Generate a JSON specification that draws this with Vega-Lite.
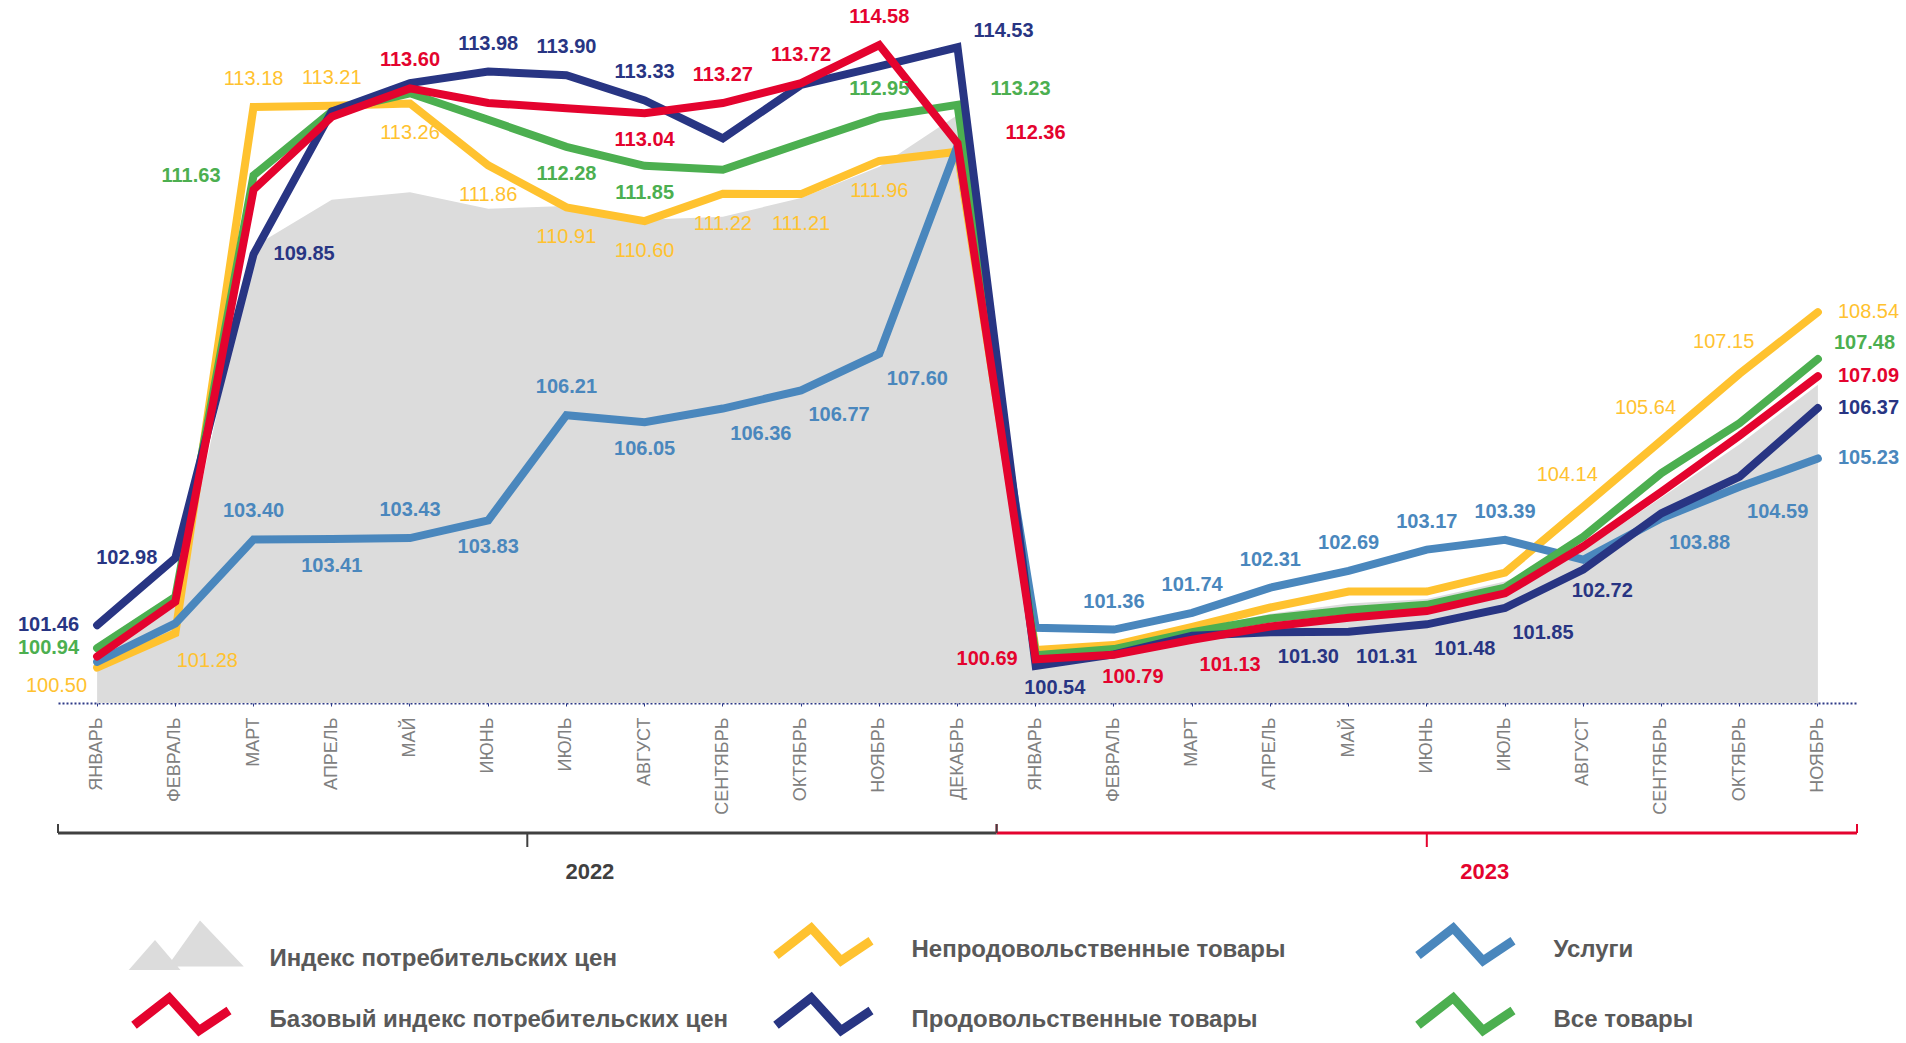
{
  "$schema": "https://vega.github.io/schema/vega-lite/v6.json",
  "background": "white",
  "padding": {"left": 17, "top": 0, "right": 0, "bottom": 0},
  "spacing": 107,
  "bounds": "flush",
  "resolve": {"scale": {"x": "independent", "y": "independent"}},
  "config": {
    "view": {"stroke": null},
    "text": {"font": "Liberation Sans", "fontSize": 20, "baseline": "middle"}
  },
  "datasets": {
    "main": [
      {"m":"ЯНВАРЬ 2022","s":"Индекс потребительских цен","v":100.85},
      {"m":"ФЕВРАЛЬ 2022","s":"Индекс потребительских цен","v":101.95},
      {"m":"МАРТ 2022","s":"Индекс потребительских цен","v":110.02},
      {"m":"АПРЕЛЬ 2022","s":"Индекс потребительских цен","v":111.08},
      {"m":"МАЙ 2022","s":"Индекс потребительских цен","v":111.25},
      {"m":"ИЮНЬ 2022","s":"Индекс потребительских цен","v":110.88},
      {"m":"ИЮЛЬ 2022","s":"Индекс потребительских цен","v":110.94},
      {"m":"АВГУСТ 2022","s":"Индекс потребительских цен","v":110.63},
      {"m":"СЕНТЯБРЬ 2022","s":"Индекс потребительских цен","v":110.70},
      {"m":"ОКТЯБРЬ 2022","s":"Индекс потребительских цен","v":111.12},
      {"m":"НОЯБРЬ 2022","s":"Индекс потребительских цен","v":111.83},
      {"m":"ДЕКАБРЬ 2022","s":"Индекс потребительских цен","v":113.00},
      {"m":"ЯНВАРЬ 2023","s":"Индекс потребительских цен","v":100.70},
      {"m":"ФЕВРАЛЬ 2023","s":"Индекс потребительских цен","v":100.90},
      {"m":"МАРТ 2023","s":"Индекс потребительских цен","v":101.35},
      {"m":"АПРЕЛЬ 2023","s":"Индекс потребительских цен","v":101.72},
      {"m":"МАЙ 2023","s":"Индекс потребительских цен","v":101.95},
      {"m":"ИЮНЬ 2023","s":"Индекс потребительских цен","v":102.05},
      {"m":"ИЮЛЬ 2023","s":"Индекс потребительских цен","v":102.45},
      {"m":"АВГУСТ 2023","s":"Индекс потребительских цен","v":103.15},
      {"m":"СЕНТЯБРЬ 2023","s":"Индекс потребительских цен","v":104.35},
      {"m":"ОКТЯБРЬ 2023","s":"Индекс потребительских цен","v":105.55},
      {"m":"НОЯБРЬ 2023","s":"Индекс потребительских цен","v":106.90},

      {"m":"ЯНВАРЬ 2022","s":"Непродовольственные товары","v":100.50,"p":"bl"},
      {"m":"ФЕВРАЛЬ 2022","s":"Непродовольственные товары","v":101.28,"p":"br2"},
      {"m":"МАРТ 2022","s":"Непродовольственные товары","v":113.18,"p":"t"},
      {"m":"АПРЕЛЬ 2022","s":"Непродовольственные товары","v":113.21,"p":"t"},
      {"m":"МАЙ 2022","s":"Непродовольственные товары","v":113.26,"p":"b"},
      {"m":"ИЮНЬ 2022","s":"Непродовольственные товары","v":111.86,"p":"b"},
      {"m":"ИЮЛЬ 2022","s":"Непродовольственные товары","v":110.91,"p":"b"},
      {"m":"АВГУСТ 2022","s":"Непродовольственные товары","v":110.60,"p":"b"},
      {"m":"СЕНТЯБРЬ 2022","s":"Непродовольственные товары","v":111.22,"p":"b"},
      {"m":"ОКТЯБРЬ 2022","s":"Непродовольственные товары","v":111.21,"p":"b"},
      {"m":"НОЯБРЬ 2022","s":"Непродовольственные товары","v":111.96,"p":"b"},
      {"m":"ДЕКАБРЬ 2022","s":"Непродовольственные товары","v":112.17},
      {"m":"ЯНВАРЬ 2023","s":"Непродовольственные товары","v":100.90},
      {"m":"ФЕВРАЛЬ 2023","s":"Непродовольственные товары","v":101.01},
      {"m":"МАРТ 2023","s":"Непродовольственные товары","v":101.42},
      {"m":"АПРЕЛЬ 2023","s":"Непродовольственные товары","v":101.86},
      {"m":"МАЙ 2023","s":"Непродовольственные товары","v":102.22},
      {"m":"ИЮНЬ 2023","s":"Непродовольственные товары","v":102.22},
      {"m":"ИЮЛЬ 2023","s":"Непродовольственные товары","v":102.65},
      {"m":"АВГУСТ 2023","s":"Непродовольственные товары","v":104.14,"p":"tl"},
      {"m":"СЕНТЯБРЬ 2023","s":"Непродовольственные товары","v":105.64,"p":"tl"},
      {"m":"ОКТЯБРЬ 2023","s":"Непродовольственные товары","v":107.15,"p":"tl"},
      {"m":"НОЯБРЬ 2023","s":"Непродовольственные товары","v":108.54,"p":"r"},

      {"m":"ЯНВАРЬ 2022","s":"Услуги","v":100.63},
      {"m":"ФЕВРАЛЬ 2022","s":"Услуги","v":101.50},
      {"m":"МАРТ 2022","s":"Услуги","v":103.40,"p":"t"},
      {"m":"АПРЕЛЬ 2022","s":"Услуги","v":103.41,"p":"b"},
      {"m":"МАЙ 2022","s":"Услуги","v":103.43,"p":"t"},
      {"m":"ИЮНЬ 2022","s":"Услуги","v":103.83,"p":"b"},
      {"m":"ИЮЛЬ 2022","s":"Услуги","v":106.21,"p":"t"},
      {"m":"АВГУСТ 2022","s":"Услуги","v":106.05,"p":"b"},
      {"m":"СЕНТЯБРЬ 2022","s":"Услуги","v":106.36,"p":"br2"},
      {"m":"ОКТЯБРЬ 2022","s":"Услуги","v":106.77,"p":"br2"},
      {"m":"НОЯБРЬ 2022","s":"Услуги","v":107.60,"p":"br2"},
      {"m":"ДЕКАБРЬ 2022","s":"Услуги","v":112.30},
      {"m":"ЯНВАРЬ 2023","s":"Услуги","v":101.40},
      {"m":"ФЕВРАЛЬ 2023","s":"Услуги","v":101.36,"p":"t"},
      {"m":"МАРТ 2023","s":"Услуги","v":101.74,"p":"t"},
      {"m":"АПРЕЛЬ 2023","s":"Услуги","v":102.31,"p":"t"},
      {"m":"МАЙ 2023","s":"Услуги","v":102.69,"p":"t"},
      {"m":"ИЮНЬ 2023","s":"Услуги","v":103.17,"p":"t"},
      {"m":"ИЮЛЬ 2023","s":"Услуги","v":103.39,"p":"t"},
      {"m":"АВГУСТ 2023","s":"Услуги","v":102.94},
      {"m":"СЕНТЯБРЬ 2023","s":"Услуги","v":103.88,"p":"br2"},
      {"m":"ОКТЯБРЬ 2023","s":"Услуги","v":104.59,"p":"br2"},
      {"m":"НОЯБРЬ 2023","s":"Услуги","v":105.23,"p":"r"},

      {"m":"ЯНВАРЬ 2022","s":"Все товары","v":100.94,"p":"l"},
      {"m":"ФЕВРАЛЬ 2022","s":"Все товары","v":102.10},
      {"m":"МАРТ 2022","s":"Все товары","v":111.63,"p":"ll"},
      {"m":"АПРЕЛЬ 2022","s":"Все товары","v":113.08},
      {"m":"МАЙ 2022","s":"Все товары","v":113.49},
      {"m":"ИЮНЬ 2022","s":"Все товары","v":112.89},
      {"m":"ИЮЛЬ 2022","s":"Все товары","v":112.28,"p":"b"},
      {"m":"АВГУСТ 2022","s":"Все товары","v":111.85,"p":"b"},
      {"m":"СЕНТЯБРЬ 2022","s":"Все товары","v":111.76},
      {"m":"ОКТЯБРЬ 2022","s":"Все товары","v":112.36},
      {"m":"НОЯБРЬ 2022","s":"Все товары","v":112.95,"p":"t"},
      {"m":"ДЕКАБРЬ 2022","s":"Все товары","v":113.23,"p":"tr2"},
      {"m":"ЯНВАРЬ 2023","s":"Все товары","v":100.78},
      {"m":"ФЕВРАЛЬ 2023","s":"Все товары","v":100.92},
      {"m":"МАРТ 2023","s":"Все товары","v":101.30},
      {"m":"АПРЕЛЬ 2023","s":"Все товары","v":101.61},
      {"m":"МАЙ 2023","s":"Все товары","v":101.80},
      {"m":"ИЮНЬ 2023","s":"Все товары","v":101.92},
      {"m":"ИЮЛЬ 2023","s":"Все товары","v":102.31},
      {"m":"АВГУСТ 2023","s":"Все товары","v":103.46},
      {"m":"СЕНТЯБРЬ 2023","s":"Все товары","v":104.90},
      {"m":"ОКТЯБРЬ 2023","s":"Все товары","v":106.03},
      {"m":"НОЯБРЬ 2023","s":"Все товары","v":107.48,"p":"tr"},

      {"m":"ЯНВАРЬ 2022","s":"Продовольственные товары","v":101.46,"p":"l"},
      {"m":"ФЕВРАЛЬ 2022","s":"Продовольственные товары","v":102.98,"p":"l"},
      {"m":"МАРТ 2022","s":"Продовольственные товары","v":109.85,"p":"r"},
      {"m":"АПРЕЛЬ 2022","s":"Продовольственные товары","v":113.08},
      {"m":"МАЙ 2022","s":"Продовольственные товары","v":113.72},
      {"m":"ИЮНЬ 2022","s":"Продовольственные товары","v":113.98,"p":"t"},
      {"m":"ИЮЛЬ 2022","s":"Продовольственные товары","v":113.90,"p":"t"},
      {"m":"АВГУСТ 2022","s":"Продовольственные товары","v":113.33,"p":"t"},
      {"m":"СЕНТЯБРЬ 2022","s":"Продовольственные товары","v":112.47},
      {"m":"ОКТЯБРЬ 2022","s":"Продовольственные товары","v":113.68},
      {"m":"НОЯБРЬ 2022","s":"Продовольственные товары","v":114.10},
      {"m":"ДЕКАБРЬ 2022","s":"Продовольственные товары","v":114.53,"p":"tr"},
      {"m":"ЯНВАРЬ 2023","s":"Продовольственные товары","v":100.54,"p":"br"},
      {"m":"ФЕВРАЛЬ 2023","s":"Продовольственные товары","v":100.80},
      {"m":"МАРТ 2023","s":"Продовольственные товары","v":101.22},
      {"m":"АПРЕЛЬ 2023","s":"Продовольственные товары","v":101.30,"p":"br2"},
      {"m":"МАЙ 2023","s":"Продовольственные товары","v":101.31,"p":"br2"},
      {"m":"ИЮНЬ 2023","s":"Продовольственные товары","v":101.48,"p":"br2"},
      {"m":"ИЮЛЬ 2023","s":"Продовольственные товары","v":101.85,"p":"br2"},
      {"m":"АВГУСТ 2023","s":"Продовольственные товары","v":102.72,"p":"br"},
      {"m":"СЕНТЯБРЬ 2023","s":"Продовольственные товары","v":103.99},
      {"m":"ОКТЯБРЬ 2023","s":"Продовольственные товары","v":104.82},
      {"m":"НОЯБРЬ 2023","s":"Продовольственные товары","v":106.37,"p":"r"},

      {"m":"ЯНВАРЬ 2022","s":"Базовый индекс потребительских цен","v":100.75},
      {"m":"ФЕВРАЛЬ 2022","s":"Базовый индекс потребительских цен","v":101.99},
      {"m":"МАРТ 2022","s":"Базовый индекс потребительских цен","v":111.31},
      {"m":"АПРЕЛЬ 2022","s":"Базовый индекс потребительских цен","v":112.96},
      {"m":"МАЙ 2022","s":"Базовый индекс потребительских цен","v":113.60,"p":"t"},
      {"m":"ИЮНЬ 2022","s":"Базовый индекс потребительских цен","v":113.27},
      {"m":"ИЮЛЬ 2022","s":"Базовый индекс потребительских цен","v":113.15},
      {"m":"АВГУСТ 2022","s":"Базовый индекс потребительских цен","v":113.04,"p":"b"},
      {"m":"СЕНТЯБРЬ 2022","s":"Базовый индекс потребительских цен","v":113.27,"p":"t"},
      {"m":"ОКТЯБРЬ 2022","s":"Базовый индекс потребительских цен","v":113.72,"p":"t"},
      {"m":"НОЯБРЬ 2022","s":"Базовый индекс потребительских цен","v":114.58,"p":"t"},
      {"m":"ДЕКАБРЬ 2022","s":"Базовый индекс потребительских цен","v":112.36,"p":"rr"},
      {"m":"ЯНВАРЬ 2023","s":"Базовый индекс потребительских цен","v":100.69,"p":"l"},
      {"m":"ФЕВРАЛЬ 2023","s":"Базовый индекс потребительских цен","v":100.79,"p":"br"},
      {"m":"МАРТ 2023","s":"Базовый индекс потребительских цен","v":101.13,"p":"br2"},
      {"m":"АПРЕЛЬ 2023","s":"Базовый индекс потребительских цен","v":101.43},
      {"m":"МАЙ 2023","s":"Базовый индекс потребительских цен","v":101.63},
      {"m":"ИЮНЬ 2023","s":"Базовый индекс потребительских цен","v":101.78},
      {"m":"ИЮЛЬ 2023","s":"Базовый индекс потребительских цен","v":102.18},
      {"m":"АВГУСТ 2023","s":"Базовый индекс потребительских цен","v":103.24},
      {"m":"СЕНТЯБРЬ 2023","s":"Базовый индекс потребительских цен","v":104.48},
      {"m":"ОКТЯБРЬ 2023","s":"Базовый индекс потребительских цен","v":105.75},
      {"m":"НОЯБРЬ 2023","s":"Базовый индекс потребительских цен","v":107.09,"p":"r"}
    ],
    "brackets": [
      {"year":"2022","start":"ЯНВАРЬ 2022","end":"ДЕКАБРЬ 2022","mid":"ИЮЛЬ 2022"},
      {"year":"2023","start":"ЯНВАРЬ 2023","end":"НОЯБРЬ 2023","mid":"ИЮНЬ 2023"}
    ]
  },
  "vconcat": [
    {
      "width": 1799,
      "height": 703,
      "data": {"name": "main"},
      "encoding": {
        "x": {
          "field": "m", "type": "nominal", "bandPosition": 0.5,
          "scale": {"type": "band", "paddingInner": 0, "paddingOuter": 0,
            "domain": ["ЯНВАРЬ 2022","ФЕВРАЛЬ 2022","МАРТ 2022","АПРЕЛЬ 2022","МАЙ 2022","ИЮНЬ 2022","ИЮЛЬ 2022","АВГУСТ 2022","СЕНТЯБРЬ 2022","ОКТЯБРЬ 2022","НОЯБРЬ 2022","ДЕКАБРЬ 2022","ЯНВАРЬ 2023","ФЕВРАЛЬ 2023","МАРТ 2023","АПРЕЛЬ 2023","МАЙ 2023","ИЮНЬ 2023","ИЮЛЬ 2023","АВГУСТ 2023","СЕНТЯБРЬ 2023","ОКТЯБРЬ 2023","НОЯБРЬ 2023"]},
          "axis": {
            "title": null, "labelAngle": -90, "labelAlign": "right", "labelBaseline": "middle",
            "labelFont": "Liberation Sans", "labelFontSize": 18, "labelColor": "#808080",
            "labelPadding": 11, "labelOverlap": false,
            "labelExpr": "split(datum.label, ' ')[0]",
            "domainColor": "#2e3a87", "domainDash": [2, 2], "domainWidth": 2,
            "tickColor": "#2e3a87", "tickSize": 3, "grid": false
          }
        },
        "y": {
          "field": "v", "type": "quantitative",
          "scale": {"domain": [99.7, 115.6], "nice": false, "zero": false},
          "axis": null
        }
      },
      "layer": [
        {
          "transform": [{"filter": "datum.s == 'Индекс потребительских цен'"}],
          "mark": {"type": "area", "color": "#dcdcdc"},
          "encoding": {"y2": {"datum": 99.7}}
        },
        {
          "transform": [{"filter": "datum.s == 'Непродовольственные товары'"}],
          "mark": {"type": "line", "strokeWidth": 8, "strokeCap": "round", "strokeJoin": "miter", "strokeMiterLimit": 3},
          "encoding": {
            "color": {
              "field": "s", "type": "nominal",
              "scale": {
                "domain": ["Индекс потребительских цен","Непродовольственные товары","Услуги","Базовый индекс потребительских цен","Продовольственные товары","Все товары"],
                "range": ["#dcdcdc","#ffc22f","#4a87bd","#e4032e","#283583","#4caf50"]
              },
              "legend": {
                "title": null, "orient": "none", "legendX": 88, "legendY": 938,
                "direction": "horizontal", "columns": 3, "gridAlign": "all",
                "columnPadding": 29, "rowPadding": 0,
                "symbolSize": 2500, "symbolStrokeWidth": 9, "symbolOffset": 23.5,
                "labelOffset": 76, "labelFont": "Liberation Sans", "labelFontSize": 24,
                "labelFontWeight": "bold", "labelColor": "#595959", "labelLimit": 0,
                "encode": {
                  "symbols": {
                    "update": {
                      "shape": {"signal": "datum.value == 'Индекс потребительских цен' ? 'M-2.11,0.46L-1.06,-0.74L-0.04,0.46Z M-0.57,0.32L0.74,-1.52L2.49,0.32Z' : 'M-1.9,0.21L-0.49,-0.89L0.7,0.42L1.9,-0.38L0.7,0.42L-0.49,-0.89Z'"},
                      "fill": {"signal": "datum.value == 'Индекс потребительских цен' ? '#dcdcdc' : 'transparent'"},
                      "stroke": {"signal": "datum.value == 'Непродовольственные товары' ? '#ffc22f' : datum.value == 'Услуги' ? '#4a87bd' : datum.value == 'Базовый индекс потребительских цен' ? '#e4032e' : datum.value == 'Продовольственные товары' ? '#283583' : datum.value == 'Все товары' ? '#4caf50' : 'transparent'"},
                      "strokeWidth": {"signal": "datum.value == 'Индекс потребительских цен' ? 0 : 9"},
                      "strokeJoin": {"signal": "datum.value == 'Индекс потребительских цен' ? 'round' : 'miter'"},
                      "opacity": {"value": 1}
                    }
                  }
                }
              }
            }
          }
        },
        {
          "transform": [{"filter": "datum.s == 'Услуги'"}],
          "mark": {"type": "line", "strokeWidth": 8, "strokeCap": "round", "strokeJoin": "miter", "strokeMiterLimit": 3},
          "encoding": {"color": {"field": "s", "type": "nominal"}}
        },
        {
          "transform": [{"filter": "datum.s == 'Все товары'"}],
          "mark": {"type": "line", "strokeWidth": 8, "strokeCap": "round", "strokeJoin": "miter", "strokeMiterLimit": 3},
          "encoding": {"color": {"field": "s", "type": "nominal"}}
        },
        {
          "transform": [{"filter": "datum.s == 'Продовольственные товары'"}],
          "mark": {"type": "line", "strokeWidth": 8, "strokeCap": "round", "strokeJoin": "miter", "strokeMiterLimit": 3},
          "encoding": {"color": {"field": "s", "type": "nominal"}}
        },
        {
          "transform": [{"filter": "datum.s == 'Базовый индекс потребительских цен'"}],
          "mark": {"type": "line", "strokeWidth": 8, "strokeCap": "round", "strokeJoin": "miter", "strokeMiterLimit": 3},
          "encoding": {"color": {"field": "s", "type": "nominal"}}
        },
        {
          "transform": [{"filter": "datum.p == 't' && datum.s != 'Непродовольственные товары'"}],
          "mark": {"type": "text", "fontWeight": "bold", "dy": -28},
          "encoding": {"text": {"field": "v", "type": "quantitative", "format": ".2f"}, "color": {"field": "s", "type": "nominal", "legend": null}}
        },
        {
          "transform": [{"filter": "datum.p == 'b' && datum.s != 'Непродовольственные товары'"}],
          "mark": {"type": "text", "fontWeight": "bold", "dy": 27},
          "encoding": {"text": {"field": "v", "type": "quantitative", "format": ".2f"}, "color": {"field": "s", "type": "nominal", "legend": null}}
        },
        {
          "transform": [{"filter": "datum.p == 'l' && datum.s != 'Непродовольственные товары'"}],
          "mark": {"type": "text", "fontWeight": "bold", "align": "right", "dx": -18},
          "encoding": {"text": {"field": "v", "type": "quantitative", "format": ".2f"}, "color": {"field": "s", "type": "nominal", "legend": null}}
        },
        {
          "transform": [{"filter": "datum.p == 'll' && datum.s != 'Непродовольственные товары'"}],
          "mark": {"type": "text", "fontWeight": "bold", "align": "right", "dx": -33},
          "encoding": {"text": {"field": "v", "type": "quantitative", "format": ".2f"}, "color": {"field": "s", "type": "nominal", "legend": null}}
        },
        {
          "transform": [{"filter": "datum.p == 'r' && datum.s != 'Непродовольственные товары'"}],
          "mark": {"type": "text", "fontWeight": "bold", "align": "left", "dx": 20},
          "encoding": {"text": {"field": "v", "type": "quantitative", "format": ".2f"}, "color": {"field": "s", "type": "nominal", "legend": null}}
        },
        {
          "transform": [{"filter": "datum.p == 'tr' && datum.s != 'Непродовольственные товары'"}],
          "mark": {"type": "text", "fontWeight": "bold", "align": "left", "dx": 16, "dy": -16},
          "encoding": {"text": {"field": "v", "type": "quantitative", "format": ".2f"}, "color": {"field": "s", "type": "nominal", "legend": null}}
        },
        {
          "transform": [{"filter": "datum.p == 'tr2' && datum.s != 'Непродовольственные товары'"}],
          "mark": {"type": "text", "fontWeight": "bold", "align": "left", "dx": 33, "dy": -16},
          "encoding": {"text": {"field": "v", "type": "quantitative", "format": ".2f"}, "color": {"field": "s", "type": "nominal", "legend": null}}
        },
        {
          "transform": [{"filter": "datum.p == 'rr' && datum.s != 'Непродовольственные товары'"}],
          "mark": {"type": "text", "fontWeight": "bold", "align": "left", "dx": 48, "dy": -10},
          "encoding": {"text": {"field": "v", "type": "quantitative", "format": ".2f"}, "color": {"field": "s", "type": "nominal", "legend": null}}
        },
        {
          "transform": [{"filter": "datum.p == 'br' && datum.s != 'Непродовольственные товары'"}],
          "mark": {"type": "text", "fontWeight": "bold", "dx": 19, "dy": 22},
          "encoding": {"text": {"field": "v", "type": "quantitative", "format": ".2f"}, "color": {"field": "s", "type": "nominal", "legend": null}}
        },
        {
          "transform": [{"filter": "datum.p == 'br2' && datum.s != 'Непродовольственные товары'"}],
          "mark": {"type": "text", "fontWeight": "bold", "dx": 38, "dy": 25},
          "encoding": {"text": {"field": "v", "type": "quantitative", "format": ".2f"}, "color": {"field": "s", "type": "nominal", "legend": null}}
        },
        {
          "transform": [{"filter": "datum.p == 't' && datum.s == 'Непродовольственные товары'"}],
          "mark": {"type": "text", "fontWeight": "normal", "dy": -28},
          "encoding": {"text": {"field": "v", "type": "quantitative", "format": ".2f"}, "color": {"field": "s", "type": "nominal", "legend": null}}
        },
        {
          "transform": [{"filter": "datum.p == 'b' && datum.s == 'Непродовольственные товары'"}],
          "mark": {"type": "text", "fontWeight": "normal", "dy": 30},
          "encoding": {"text": {"field": "v", "type": "quantitative", "format": ".2f"}, "color": {"field": "s", "type": "nominal", "legend": null}}
        },
        {
          "transform": [{"filter": "datum.p == 'r' && datum.s == 'Непродовольственные товары'"}],
          "mark": {"type": "text", "fontWeight": "normal", "align": "left", "dx": 20},
          "encoding": {"text": {"field": "v", "type": "quantitative", "format": ".2f"}, "color": {"field": "s", "type": "nominal", "legend": null}}
        },
        {
          "transform": [{"filter": "datum.p == 'br2' && datum.s == 'Непродовольственные товары'"}],
          "mark": {"type": "text", "fontWeight": "normal", "dx": 32, "dy": 28},
          "encoding": {"text": {"field": "v", "type": "quantitative", "format": ".2f"}, "color": {"field": "s", "type": "nominal", "legend": null}}
        },
        {
          "transform": [{"filter": "datum.p == 'bl' && datum.s == 'Непродовольственные товары'"}],
          "mark": {"type": "text", "fontWeight": "normal", "align": "right", "dx": -10, "dy": 18},
          "encoding": {"text": {"field": "v", "type": "quantitative", "format": ".2f"}, "color": {"field": "s", "type": "nominal", "legend": null}}
        },
        {
          "transform": [{"filter": "datum.p == 'tl' && datum.s == 'Непродовольственные товары'"}],
          "mark": {"type": "text", "fontWeight": "normal", "dx": -16, "dy": -32},
          "encoding": {"text": {"field": "v", "type": "quantitative", "format": ".2f"}, "color": {"field": "s", "type": "nominal", "legend": null}}
        }
      ]
    },
    {
      "width": 1799,
      "height": 80,
      "data": {"name": "brackets"},
      "layer": [
        {
          "mark": {"type": "rule", "strokeWidth": 3},
          "encoding": {
            "x": {"field": "start", "type": "nominal", "bandPosition": 0,
              "scale": {"type": "band", "paddingInner": 0, "paddingOuter": 0,
                "domain": ["ЯНВАРЬ 2022","ФЕВРАЛЬ 2022","МАРТ 2022","АПРЕЛЬ 2022","МАЙ 2022","ИЮНЬ 2022","ИЮЛЬ 2022","АВГУСТ 2022","СЕНТЯБРЬ 2022","ОКТЯБРЬ 2022","НОЯБРЬ 2022","ДЕКАБРЬ 2022","ЯНВАРЬ 2023","ФЕВРАЛЬ 2023","МАРТ 2023","АПРЕЛЬ 2023","МАЙ 2023","ИЮНЬ 2023","ИЮЛЬ 2023","АВГУСТ 2023","СЕНТЯБРЬ 2023","ОКТЯБРЬ 2023","НОЯБРЬ 2023"]},
              "axis": null},
            "x2": {"field": "end", "bandPosition": 1},
            "y": {"datum": 23, "type": "quantitative", "scale": {"domain": [0, 80], "reverse": true, "nice": false, "zero": false}, "axis": null},
            "color": {"condition": {"test": "datum.year == '2023'", "value": "#e4032e"}, "value": "#404040"}
          }
        },
        {
          "mark": {"type": "rule", "strokeWidth": 2},
          "encoding": {
            "x": {"field": "start", "type": "nominal", "bandPosition": 0},
            "y": {"datum": 14, "type": "quantitative"},
            "y2": {"datum": 23},
            "color": {"condition": {"test": "datum.year == '2023'", "value": "#e4032e"}, "value": "#404040"}
          }
        },
        {
          "mark": {"type": "rule", "strokeWidth": 2},
          "encoding": {
            "x": {"field": "end", "type": "nominal", "bandPosition": 1},
            "y": {"datum": 14, "type": "quantitative"},
            "y2": {"datum": 23},
            "color": {"condition": {"test": "datum.year == '2023'", "value": "#e4032e"}, "value": "#404040"}
          }
        },
        {
          "transform": [{"filter": "datum.year == '2022'"}],
          "mark": {"type": "rule", "strokeWidth": 2, "color": "#404040"},
          "encoding": {
            "x": {"field": "mid", "type": "nominal", "bandPosition": 0},
            "y": {"datum": 23, "type": "quantitative"},
            "y2": {"datum": 37}
          }
        },
        {
          "transform": [{"filter": "datum.year == '2023'"}],
          "mark": {"type": "rule", "strokeWidth": 2, "color": "#e4032e"},
          "encoding": {
            "x": {"field": "mid", "type": "nominal", "bandPosition": 0.5},
            "y": {"datum": 23, "type": "quantitative"},
            "y2": {"datum": 37}
          }
        },
        {
          "transform": [{"filter": "datum.year == '2022'"}],
          "mark": {"type": "text", "fontWeight": "bold", "fontSize": 22, "color": "#404040"},
          "encoding": {
            "x": {"field": "mid", "type": "nominal", "bandPosition": 0.8},
            "y": {"datum": 62, "type": "quantitative"},
            "text": {"field": "year"}
          }
        },
        {
          "transform": [{"filter": "datum.year == '2023'"}],
          "mark": {"type": "text", "fontWeight": "bold", "fontSize": 22, "color": "#e4032e"},
          "encoding": {
            "x": {"field": "mid", "type": "nominal", "bandPosition": 1.24},
            "y": {"datum": 62, "type": "quantitative"},
            "text": {"field": "year"}
          }
        }
      ]
    }
  ]
}
